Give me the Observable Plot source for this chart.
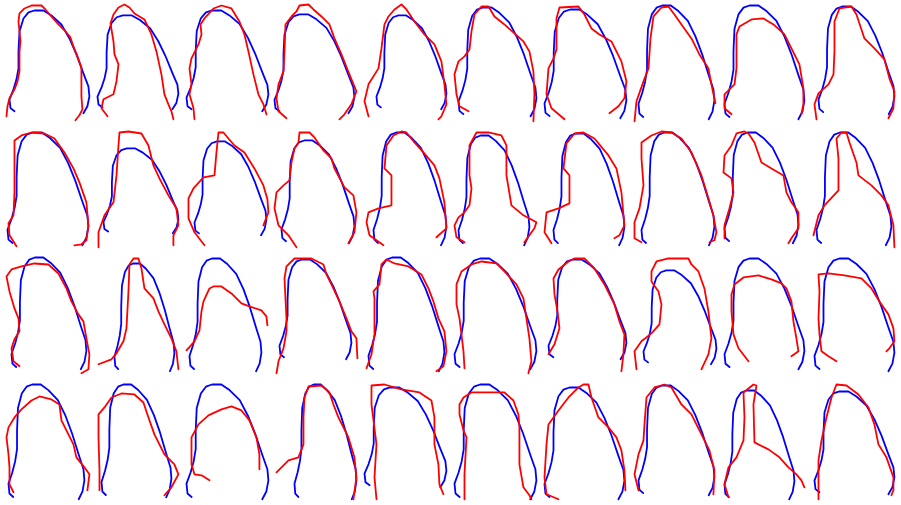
<!DOCTYPE html>
<html>
<head>
<meta charset="utf-8">
<script src="https://cdn.jsdelivr.net/npm/d3@7"></script>
<script src="https://cdn.jsdelivr.net/npm/@observablehq/plot@0.6"></script>
<style>
  html, body { margin: 0; padding: 0; background: #ffffff; }
  #chart svg { display: block; }
</style>
</head>
<body>
<div id="chart"></div>
<script>
// Grid of panels: 4 rows x 10 columns
const rows = [0, 1, 2, 3];
const cols = [0, 1, 2, 3, 4, 5, 6, 7, 8, 9];

// Reference (blue) outline, in unit coordinates (u across, v down)
const blueTemplate = [
  [0.0625, 0.98], [0.0125, 0.95], [0, 0.864], [0.05, 0.767], [0.0875, 0.67],
  [0.1125, 0.563], [0.1125, 0.398], [0.125, 0.204], [0.175, 0.078], [0.2375, 0.019],
  [0.3125, 0], [0.425, 0], [0.525, 0.049], [0.65, 0.136], [0.75, 0.272],
  [0.8375, 0.427], [0.925, 0.612], [0.9875, 0.738], [1, 0.835], [0.975, 0.932], [0.925, 1]
];

// Extent of the blue outline in each panel: [left, right, top, bottom] (panel units)
const blueExtents = [
  [8,88,9,112],[6,87,14,108],[5,87,9,110],[3,83,13,112],[15,85,14,108],[7,85,6,115],[3,85,8,117],[7,83,4,118],[3,83,4,118],[7,83,5,113],
  [6,87,5,118],[12,87,21,106],[13,85,14,108],[10,83,13,116],[12,85,5,118],[7,78,8,118],[12,83,6,118],[10,83,5,118],[3,77,5,116],[5,80,5,118],
  [10,85,4,116],[23,83,10,118],[8,80,5,118],[8,80,6,106],[7,83,4,118],[3,85,5,116],[7,85,6,106],[12,85,17,111],[3,83,5,116],[3,83,5,118],
  [7,83,5,120],[10,80,5,118],[5,87,5,120],[23,85,5,120],[3,85,8,108],[3,85,5,120],[3,83,8,120],[7,83,6,116],[3,73,11,120],[3,83,12,115]
];

// Red outlines, one per panel (row-major), "x,y" pairs in panel units
const redRow1 = [
  "5,115 6,105 8,97 13,88 16,80 18,70 18,50 19,40 17,20 18,12 23,7 30,4 40,4 44,8 50,15 57,23 64,30 69,36 72,45 76,55 80,66 80,80 80,95 81,108 78,114 74,119",
  "16,115 10,107 12,98 22,93 25,80 27,63 23,53 22,40 19,22 22,13 27,6 33,3 38,6 43,12 53,18 60,33 65,50 70,73 73,93 77,103 80,110 82,118",
  "13,118 12,107 8,93 10,83 8,67 10,57 17,43 20,33 19,23 23,17 32,7 40,4 50,7 58,20 63,33 67,50 72,73 77,93 82,103 85,113",
  "15,117 7,110 5,97 7,83 12,70 13,50 14,23 20,15 25,10 28,4 37,3 42,8 50,15 58,23 63,37 70,53 78,73 85,90 80,103 73,113 68,118",
  "7,115 3,100 7,83 17,67 20,47 23,23 27,15 33,8 40,3 45,8 53,20 63,33 73,43 80,60 83,83 85,103 80,115 77,118",
  "17,110 8,105 5,93 3,73 7,60 13,55 18,48 20,30 23,13 30,5 37,5 43,15 53,23 63,32 72,40 78,50 82,70 83,93 82,120",
  "23,118 10,107 5,93 7,67 12,57 15,48 15,17 18,6 37,5 43,13 50,27 58,33 70,40 80,60 85,80 83,97 77,105 68,112",
  "3,120 5,100 12,80 17,67 19,37 22,15 30,6 37,5 43,13 50,23 60,37 68,53 77,67 80,83 84,102",
  "10,113 3,107 3,93 13,83 15,67 15,33 18,25 30,18 42,17 52,23 63,33 70,47 78,63 82,87 82,103 80,113",
  "5,118 3,103 7,92 17,83 22,73 23,50 23,20 28,7 40,5 45,13 53,37 63,47 73,58 78,77 83,90 82,107 77,117"
];
const redRow2 = [
  "15,119 8,108 7,96 12,88 13,65 13,31 13,13 20,8 30,5 43,6 53,11 63,25 72,41 78,55 85,75 87,98 85,113 80,117 73,118",
  "7,120 7,105 13,88 22,75 25,48 27,18 28,5 37,4 50,6 57,18 62,38 68,51 77,68 85,81 87,98 82,108 82,118",
  "23,118 13,105 7,91 7,71 12,61 22,50 33,48 35,25 37,5 42,5 47,11 53,18 63,25 73,41 82,58 86,72 87,85 82,98",
  "25,120 17,108 7,98 3,81 5,65 12,58 18,53 20,35 23,21 27,15 28,5 38,5 43,10 52,23 60,31 63,41 73,60 82,68 85,85 83,105 77,116",
  "22,118 8,108 5,95 7,85 17,81 30,78 30,48 23,41 25,18 32,8 40,4 45,5 53,15 62,25 73,38 78,51 83,75 85,101 75,110",
  "13,115 5,110 3,98 7,90 13,85 18,78 20,61 18,48 18,18 25,5 37,5 50,8 55,18 55,48 60,78 72,88 85,95 83,101 73,115",
  "10,116 3,105 5,85 17,81 28,76 28,48 22,41 25,16 33,6 42,5 53,11 67,28 75,41 80,65 83,98 78,108 73,111",
  "10,115 3,111 3,95 8,81 12,58 10,31 10,15 20,8 30,4 40,5 50,11 60,25 70,48 77,71 82,88 85,105 83,113 78,115",
  "3,111 3,98 8,81 12,65 10,51 2,45 3,28 10,18 15,6 23,4 27,6 33,15 40,35 50,41 62,48 65,65 70,75 77,85 77,101 70,111 67,116",
  "2,108 7,88 13,78 27,63 27,31 25,11 30,5 35,5 38,15 45,35 47,48 60,58 70,68 77,78 82,98 83,120"
];
const redRow3 = [
  "18,113 12,108 10,95 13,86 18,78 17,65 13,55 8,38 5,23 10,16 20,13 33,10 47,11 57,20 65,35 70,48 77,61 82,68 85,85 88,101 87,116 80,120",
  "7,111 20,106 25,100 32,88 35,75 37,38 38,11 42,5 47,5 50,15 53,35 62,45 67,58 73,71 80,85 85,98 87,116",
  "5,97 13,88 18,77 20,58 22,48 28,35 32,33 40,33 50,40 60,50 68,53 80,57 85,63 86,72",
  "5,120 7,108 12,95 15,78 15,65 13,25 15,13 23,5 40,5 52,11 55,21 60,31 68,48 75,65 80,78 85,85 86,105",
  "5,115 10,101 13,81 13,45 12,38 18,31 20,11 25,6 33,10 47,13 60,21 67,35 72,48 77,65 83,78 85,98 82,113 75,118",
  "13,115 12,98 10,81 8,65 5,51 5,31 10,18 20,11 30,8 45,10 53,18 65,31 72,45 75,65 78,85 80,108 77,120",
  "7,101 13,91 18,75 16,58 13,41 12,25 17,16 27,8 33,5 43,5 53,15 63,31 73,51 78,68 83,81 82,101 80,118",
  "5,116 3,98 10,88 20,80 28,71 30,51 27,38 20,28 20,18 25,8 37,5 57,5 60,11 67,18 73,35 77,58 80,85 77,101 70,116",
  "27,108 17,95 12,81 10,58 10,41 13,31 22,24 37,22 50,26 60,30 65,35 70,48 72,68 75,85 77,98 70,103",
  "25,108 17,103 10,98 8,81 7,65 8,38 7,21 17,20 33,22 50,25 60,35 68,48 77,61 82,75 83,88 78,95 75,98"
];
const redRow4 = [
  "12,113 8,105 8,88 7,75 5,58 7,48 13,38 20,30 30,21 38,17 50,20 58,25 60,41 65,51 72,65 75,78 83,88 88,95 86,111",
  "8,111 8,91 7,58 7,35 13,28 20,18 30,14 43,15 52,23 57,38 63,55 73,75 83,85 87,95 80,108 73,116",
  "28,101 20,96 13,95 10,85 10,58 17,45 27,36 40,30 50,27 60,31 68,41 75,58 78,75 78,90",
  "5,93 17,81 27,78 32,65 32,38 33,18 37,7 50,6 58,13 62,25 67,38 77,58 83,78 85,98 82,120",
  "15,120 13,98 15,65 12,41 10,25 10,6 23,5 40,10 58,13 70,21 73,38 73,65 77,85 78,105 82,115",
  "13,120 13,95 15,58 12,51 8,35 8,25 12,18 20,13 33,13 53,13 62,21 67,35 68,48 68,85 72,108 78,116 80,120",
  "17,120 5,115 3,98 5,65 7,45 17,31 27,18 37,8 42,5 47,5 50,18 57,38 67,48 75,58 80,71 83,91 84,111",
  "7,111 3,95 7,75 12,61 13,45 15,18 23,8 33,5 40,8 50,25 60,35 70,55 78,71 83,91 82,115",
  "7,118 3,105 7,88 15,78 22,61 23,38 22,13 32,5 35,6 32,25 33,63 47,70 58,78 67,88 75,95 80,101 83,108",
  "7,120 7,81 10,61 15,38 20,18 25,5 35,6 47,15 57,28 63,45 67,65 75,78 82,98 82,111 80,116"
];
const redCurves = [...redRow1, ...redRow2, ...redRow3, ...redRow4];

// Build tidy tables
const blueData = [];
blueExtents.forEach(([x0, x1, y0, y1], i) => {
  const row = Math.floor(i / 10), col = i % 10;
  blueTemplate.forEach(([u, v], k) => {
    blueData.push({panel: i, row, col, k, x: x0 + u * (x1 - x0), y: y0 + v * (y1 - y0)});
  });
});
const redData = [];
redCurves.forEach((s, i) => {
  const row = Math.floor(i / 10), col = i % 10;
  s.trim().split(/\s+/).forEach((p, k) => {
    const [x, y] = p.split(",").map(Number);
    redData.push({panel: i, row, col, k, x, y});
  });
});

const chart = Plot.plot({
  width: 901,
  height: 505,
  marginTop: 0, marginRight: 0, marginBottom: 0, marginLeft: 0,
  style: {background: "#ffffff"},
  fx: {domain: cols, padding: 0, axis: null},
  fy: {domain: rows, padding: 0, axis: null},
  x: {domain: [0, 90.1], axis: null},
  y: {domain: [0, 126.25], reverse: true, axis: null},
  marks: [
    Plot.line(blueData, {x: "x", y: "y", fx: "col", fy: "row", z: "panel", stroke: "#0000ff", strokeWidth: 1.8, strokeLinejoin: "round"}),
    Plot.line(redData, {x: "x", y: "y", fx: "col", fy: "row", z: "panel", stroke: "#ff0000", strokeWidth: 1.8, strokeLinejoin: "round"})
  ]
});
document.getElementById("chart").appendChild(chart);
</script>
</body>
</html>
